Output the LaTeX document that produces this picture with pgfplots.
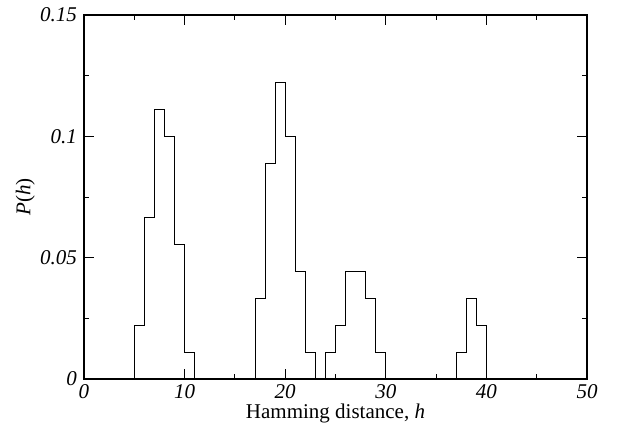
\documentclass[border=0pt]{standalone}
\usepackage{fontspec}
\setmainfont{Liberation Serif}
\usepackage{pgfplots}
\pgfplotsset{compat=1.18}

\begin{document}
\fontsize{21}{25}\selectfont
\begin{tikzpicture}
\begin{axis}[
    scale only axis,
    width=503pt, height=364pt,
    xmin=0, xmax=50, ymin=0, ymax=0.15,
    xtick={0,10,...,50},
    ytick={0,0.05,0.1,0.15},
    minor x tick num=1,
    minor y tick num=1,
    tick align=inside,
    major tick length=10pt,
    minor tick length=5pt,
    axis line style={line width=1.4pt},
    every tick/.style={black, line width=1pt},
    scaled y ticks=false,
    yticklabel style={/pgf/number format/fixed, /pgf/number format/precision=2},
    xticklabel style={yshift=2pt},
    /pgf/number format/assume math mode=true,
    tick label style={font=\fontsize{21}{25}\selectfont\itshape},
    label style={font=\fontsize{21}{25}\selectfont},
    xlabel={Hamming distance, \textit{h}},
    ylabel={\textit{P}(\textit{h})},
    xlabel style={yshift=9pt},
    ylabel style={yshift=-9pt},
    clip=false,
]
\addplot[const plot mark left, black, line width=1pt] coordinates {
(0,0) (5,0.0222) (6,0.0667) (7,0.1111) (8,0.1) (9,0.0556) (10,0.0111) (11,0)
(17,0.0333) (18,0.0889) (19,0.1222) (20,0.1) (21,0.0444) (22,0.0111) (23,0)
(24,0.0111) (25,0.0222) (26,0.0444) (27,0.0444) (28,0.0333) (29,0.0111) (30,0)
(37,0.0111) (38,0.0333) (39,0.0222) (40,0) (50,0)
};
\end{axis}
\path (current axis.south west) ++(-84pt,-45pt) (current axis.north east) ++(40pt,15pt);
\end{tikzpicture}
\end{document}
